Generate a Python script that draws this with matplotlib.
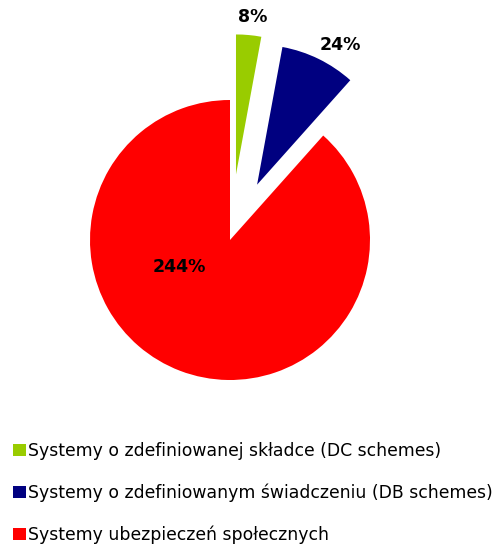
import matplotlib.pyplot as plt

labels = ['Systemy o zdefiniowanej składce (DC schemes)',
          'Systemy o zdefiniowanym świadczeniu (DB schemes)',
          'Systemy ubezpieczeń społecznych']
values = [8, 24, 244]
pct_labels = ['8%', '24%', '244%']
colors = ['#99CC00', '#000080', '#FF0000']
explode = [0.47, 0.44, 0]

fig = plt.figure(figsize=(4.99, 5.44), dpi=100)
ax = fig.add_axes([0, 0, 1, 1])

wedges, _ = ax.pie(values, colors=colors, explode=explode, startangle=90,
                   counterclock=False, radius=1)

# label positions in radius units
label_pos = [(0.16, 1.59), (0.79, 1.39), (-0.36, -0.19)]
for (x, y), t in zip(label_pos, pct_labels):
    ax.text(x, y, t, ha='center', va='center', fontsize=12.5, fontweight='bold',
            color='black')

ax.set_xlim(-230 / 140, 269 / 140)
ax.set_ylim(-304 / 140, 240 / 140)
ax.set_aspect('auto')
ax.axis('off')

fig.legend(wedges, labels, loc='upper left', bbox_to_anchor=(0.012, 0.2),
           frameon=False, fontsize=12.4, handlelength=0.75, handleheight=0.75,
           handletextpad=0.15, labelspacing=1.36, borderaxespad=0)

fig.savefig('out.png', dpi=100)
